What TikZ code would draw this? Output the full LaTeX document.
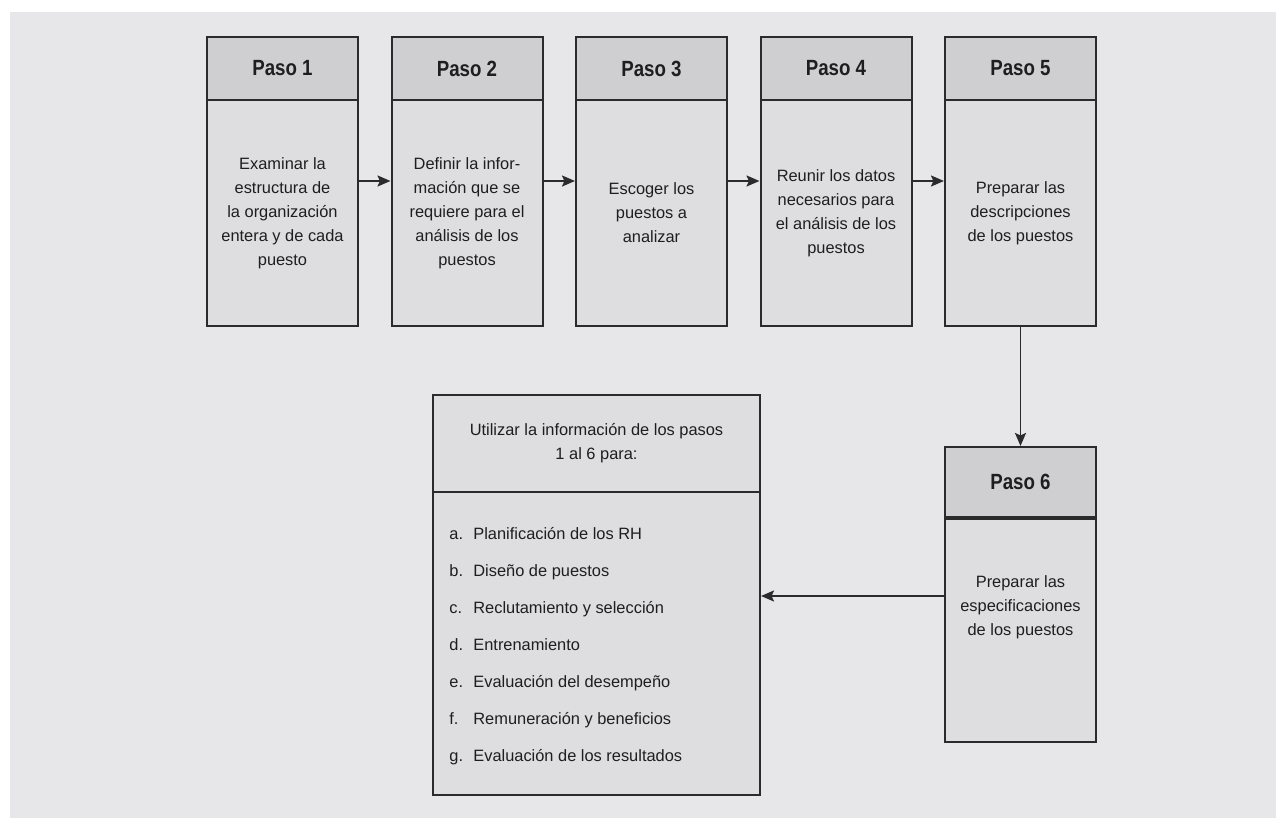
\documentclass[tikz,border=0pt]{standalone}
\usepackage{fontspec}
\setmainfont{Liberation Sans}
\newfontfamily\headfont{Liberation Sans}[FakeStretch=0.85]
\usetikzlibrary{arrows.meta}
\definecolor{bgcol}{HTML}{E7E7E9}
\definecolor{hdrcol}{HTML}{CFCFD1}
\definecolor{bodycol}{HTML}{DEDEE0}
\definecolor{linecol}{HTML}{2B2B2B}
\definecolor{txtcol}{HTML}{1E1E1E}

\begin{document}
\begin{tikzpicture}[x=0.5pt,y=-0.5pt,
  frame/.style={draw=linecol, line width=1pt, inner sep=0pt, text=txtcol},
  hdr/.style={frame, fill=hdrcol, minimum width=75.5pt, minimum height=31.5pt,
    font=\headfont\bfseries\fontsize{11}{13}\selectfont},
  body/.style={frame, fill=bodycol, minimum width=75.5pt, minimum height=113pt,
    align=center, font=\fontsize{8.2}{12}\selectfont},
  txt/.style={inner sep=0pt, align=center, text=txtcol, font=\fontsize{8.2}{12}\selectfont},
  item/.style={inner sep=0pt, anchor=base west, text=txtcol, font=\fontsize{8.2}{12}\selectfont},
  arr/.style={draw=linecol, line width=0.9pt, -{Stealth[length=6.5pt,width=5.5pt,inset=1.2pt]}}
]
\useasboundingbox (0,0) rectangle (1276,818);
\fill[bgcol] (10,12) rectangle (1276,818);

% steps 1 to 5
\node[body] (b1) at (282.5,213) {Examinar la\\estructura de\\la organización\\entera y de cada\\puesto};
\node[hdr]  (h1) at (282.5,68.5) {Paso 1};
\node[body] (b2) at (467,213) {Definir la infor-\\mación que se\\requiere para el\\análisis de los\\puestos};
\node[hdr]  (h2) at (467,68.5) {Paso 2};
\node[body] (b3) at (651.5,213) {Escoger los\\puestos a\\analizar};
\node[hdr]  (h3) at (651.5,68.5) {Paso 3};
\node[body] (b4) at (836,213) {Reunir los datos\\necesarios para\\el análisis de los\\puestos};
\node[hdr]  (h4) at (836,68.5) {Paso 4};
\node[body] (b5) at (1020.5,213) {Preparar las\\descripciones\\de los puestos};
\node[hdr]  (h5) at (1020.5,68.5) {Paso 5};

% step 6
\node[body, minimum height=112.5pt] (b6) at (1020.5,629.5) {};
\node[hdr, minimum height=35pt] (h6) at (1020.5,482) {Paso 6};
\draw[linecol, line width=1.7pt] (h6.south west) -- (h6.south east);
\node[txt] (t6) at (1020.5,607) {Preparar las\\especificaciones\\de los puestos};

% uses of the information
\node[body, minimum width=163.5pt, minimum height=151.5pt] (ub) at (596.5,643.5) {};
\node[body, minimum width=163.5pt, minimum height=48.5pt] (uh) at (596.5,443.5)
  {Utilizar la información de los pasos\\1 al 6 para:};
\foreach \l/\t [count=\i] in {a./Planificación de los RH, b./Diseño de puestos,
  c./Reclutamiento y selección, d./Entrenamiento, e./Evaluación del desempeño,
  f./Remuneración y beneficios, g./Evaluación de los resultados}
  \node[item] (item\i) at (449,502+37*\i) {\makebox[12pt][l]{\l}\t};

% connectors
\coordinate (row) at (0,181);
\coordinate (lrow) at (0,596);
\draw[arr] (b1.east |- row) -- (b2.west |- row);
\draw[arr] (b2.east |- row) -- (b3.west |- row);
\draw[arr] (b3.east |- row) -- (b4.west |- row);
\draw[arr] (b4.east |- row) -- (b5.west |- row);
\draw[arr] (b5.south) -- (h6.north);
\draw[arr] (b6.west |- lrow) -- (ub.east |- lrow);
\end{tikzpicture}
\end{document}
